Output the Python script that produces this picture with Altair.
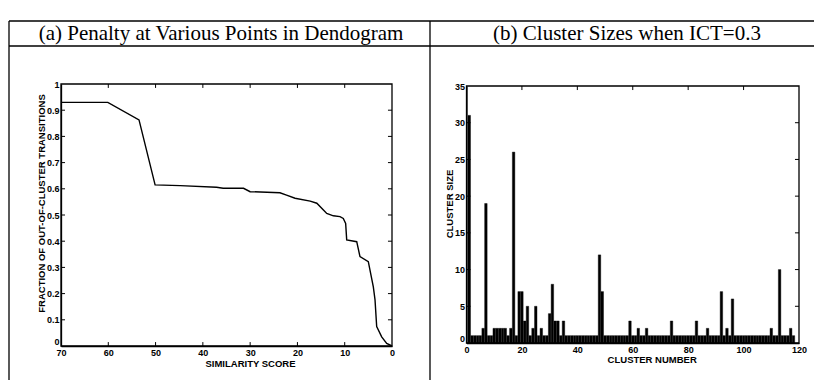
import altair as alt
import pandas as pd

# ---------------- data ----------------
header_texts = ["(a) Penalty at Various Points in Dendogram", "(b) Cluster Sizes when ICT=0.3"]

# panel (a): fraction of out-of-cluster transitions vs similarity score
sim_score = [70, 60.1, 53.5, 50.1, 44.8, 37.1, 35.7, 31.4, 30.0, 23.7, 22.3, 20.5, 17.3,
             15.9, 14.5, 13.8, 12.4, 11.0, 10.3, 9.8, 9.58, 7.46, 6.77, 5.01, 3.95, 3.59,
             3.24, 2.18, 1.12, 0]
penalty = [0.930, 0.930, 0.863, 0.615, 0.612, 0.606, 0.602, 0.602, 0.589, 0.585, 0.576,
           0.564, 0.553, 0.545, 0.519, 0.506, 0.497, 0.494, 0.487, 0.468, 0.405, 0.398,
           0.341, 0.322, 0.226, 0.176, 0.074, 0.035, 0.010, 0.0]
a_xticks = [70, 60, 50, 40, 30, 20, 10, 0]
a_yticks = [0, 0.1, 0.2, 0.3, 0.4, 0.5, 0.6, 0.7, 0.8, 0.9, 1]

# panel (b): cluster sizes
cluster_size = [31, 1, 1, 1, 1, 2, 19, 1, 1, 2,
                2, 2, 2, 2, 1, 2, 26, 1, 7, 7,
                3, 5, 1, 2, 5, 1, 2, 1, 1, 4,
                8, 3, 3, 1, 3, 1, 1, 1, 1, 1,
                1, 1, 1, 1, 1, 1, 1, 12, 7, 1,
                1, 1, 1, 1, 1, 1, 1, 1, 3, 1,
                1, 2, 1, 1, 2, 1, 1, 1, 1, 1,
                1, 1, 1, 3, 1, 1, 1, 1, 1, 1,
                1, 1, 3, 1, 1, 1, 2, 1, 1, 1,
                1, 7, 1, 2, 1, 6, 1, 1, 1, 1,
                1, 1, 1, 1, 1, 1, 1, 1, 1, 2,
                1, 1, 10, 1, 1, 1, 2, 1]
cluster_number = list(range(1, len(cluster_size) + 1))
b_xticks = [0, 20, 40, 60, 80, 100, 120]
b_yticks = [0, 5, 10, 15, 20, 25, 30, 35]

dfa = pd.DataFrame({"score": sim_score, "penalty": penalty})
dfb = pd.DataFrame({"cluster": cluster_number, "size": cluster_size})
one = pd.DataFrame({"k": [0]})

SANS = "Liberation Sans"
SERIF = "Liberation Serif"
W, H = 806, 372

def axis(orient, values, fmt, title, offset, tx, ty):
    extra = {}
    if orient == "left":
        extra["labelBaseline"] = {"condition": {"test": "datum.value == 0", "value": "bottom"},
                                  "value": "middle"}
    return alt.Axis(orient=orient, values=values, format=fmt, title=title, offset=offset,
                    titleX=tx, titleY=ty, titleBaseline="middle",
                    labelFont=SANS, labelFontSize=9, labelFontWeight="bold",
                    labelColor="black", labelPadding=2, labelFlush=False, labelOverlap=False,
                    titleFont=SANS, titleFontSize=9.5, titleFontWeight="bold", titleColor="black",
                    domainColor="black", domainWidth=1.3, ticks=False, tickSize=0, grid=False,
                    **extra)

# ---------------- panel (a) ----------------
xa = alt.Scale(domain=[0, 70], range=[384, 53], nice=False, zero=False)
ya = alt.Scale(domain=[0, 1], range=[338, 76], nice=False, zero=False)

line_a = alt.Chart(dfa).mark_line(color="black", strokeWidth=1.4).encode(
    x=alt.X("score:Q", scale=xa,
            axis=axis("bottom", a_xticks, "d", "SIMILARITY SCORE", 338 - H, 242, 17)),
    y=alt.Y("penalty:Q", scale=ya,
            axis=axis("left", a_yticks, ".1~f", "FRACTION OF OUT-OF-CLUSTER TRANSITIONS",
                      -53, -20, 195)),
)
box_a = alt.Chart(one).mark_rect(filled=False, stroke="black", strokeWidth=1.3).encode(
    x=alt.XDatum(0, scale=xa, axis=None), x2=alt.X2Datum(70),
    y=alt.YDatum(0, scale=ya, axis=None), y2=alt.Y2Datum(1),
)
tx_a = pd.DataFrame({"v": a_xticks[1:-1]})
ty_a = pd.DataFrame({"v": a_yticks[1:-1]})
tick_a_x = alt.Chart(tx_a).transform_fold(["lo", "hi"]).transform_calculate(
    y0="datum.key == 'lo' ? 0 : 1", y1="datum.key == 'lo' ? 0.015 : 0.985"
).mark_rule(color="black").encode(
    x=alt.X("v:Q", scale=xa, axis=None),
    y=alt.Y("y0:Q", scale=ya, axis=None), y2="y1:Q")
tick_a_y = alt.Chart(ty_a).transform_fold(["lo", "hi"]).transform_calculate(
    x0="datum.key == 'lo' ? 70 : 0", x1="datum.key == 'lo' ? 69.15 : 0.85"
).mark_rule(color="black").encode(
    y=alt.Y("v:Q", scale=ya, axis=None),
    x=alt.X("x0:Q", scale=xa, axis=None), x2="x1:Q")

# ---------------- panel (b) ----------------
xb = alt.Scale(domain=[0, 120], range=[458.5, 791], nice=False, zero=False)
yb = alt.Scale(domain=[0, 35], range=[335, 78], nice=False, zero=False)

bars_b = alt.Chart(dfb).transform_calculate(
    x0="datum.cluster - 0.45", x1="datum.cluster + 0.45"
).mark_rect(color="black", stroke="black", strokeWidth=0.4).encode(
    x=alt.X("x0:Q", scale=xb,
            axis=axis("bottom", b_xticks, "d", "CLUSTER NUMBER", 335 - H, 643.7, 16)),
    x2="x1:Q",
    y=alt.Y("size:Q", scale=yb,
            axis=axis("left", b_yticks, "d", "CLUSTER SIZE", -458.5, -17, 195.5)),
    y2=alt.Y2Datum(0),
)
box_b = alt.Chart(one).mark_rect(filled=False, stroke="black", strokeWidth=1.3).encode(
    x=alt.XDatum(0, scale=xb, axis=None), x2=alt.X2Datum(120),
    y=alt.YDatum(0, scale=yb, axis=None), y2=alt.Y2Datum(35),
)
tx_b = pd.DataFrame({"v": b_xticks[1:-1]})
ty_b = pd.DataFrame({"v": b_yticks[1:-1]})
tick_b_x = alt.Chart(tx_b).transform_fold(["lo", "hi"]).transform_calculate(
    y0="datum.key == 'lo' ? 0 : 35", y1="datum.key == 'lo' ? 0.55 : 34.45"
).mark_rule(color="black").encode(
    x=alt.X("v:Q", scale=xb, axis=None),
    y=alt.Y("y0:Q", scale=yb, axis=None), y2="y1:Q")
tick_b_y = alt.Chart(ty_b).transform_fold(["lo", "hi"]).transform_calculate(
    x0="datum.key == 'lo' ? 0 : 120", x1="datum.key == 'lo' ? 1.45 : 118.55"
).mark_rule(color="black").encode(
    y=alt.Y("v:Q", scale=yb, axis=None),
    x=alt.X("x0:Q", scale=xb, axis=None), x2="x1:Q")

# ---------------- table frame and headers ----------------
def hrule(x1, x2, y):
    return alt.Chart(one).mark_rule(color="black", strokeWidth=1.3).encode(
        x=alt.value(x1), x2=alt.value(x2), y=alt.value(y))

def vrule(x, y1, y2):
    return alt.Chart(one).mark_rule(color="black", strokeWidth=1.3).encode(
        x=alt.value(x), y=alt.value(y1), y2=alt.value(y2))

frame = [hrule(1, 811, 13), hrule(1, 811, 38),
         vrule(1, 13, H), vrule(422, 13, H), vrule(811, 13, H)]

def header(txt, x):
    return alt.Chart(one).mark_text(font=SERIF, fontSize=21, color="black",
                                    align="center", baseline="middle").encode(
        x=alt.value(x), y=alt.value(26), text=alt.value(txt))

headers = [header(header_texts[0], 213), header(header_texts[1], 619)]

chart = alt.layer(line_a, box_a, tick_a_x, tick_a_y,
                  bars_b, box_b, tick_b_x, tick_b_y,
                  *frame, *headers).resolve_scale(
    x="independent", y="independent"
).properties(
    width=W, height=H, padding=0,
    autosize=alt.AutoSizeParams(type="none"),
).configure_view(stroke=None)

chart.save("out.html", embed_options={"renderer": "svg", "actions": False})
